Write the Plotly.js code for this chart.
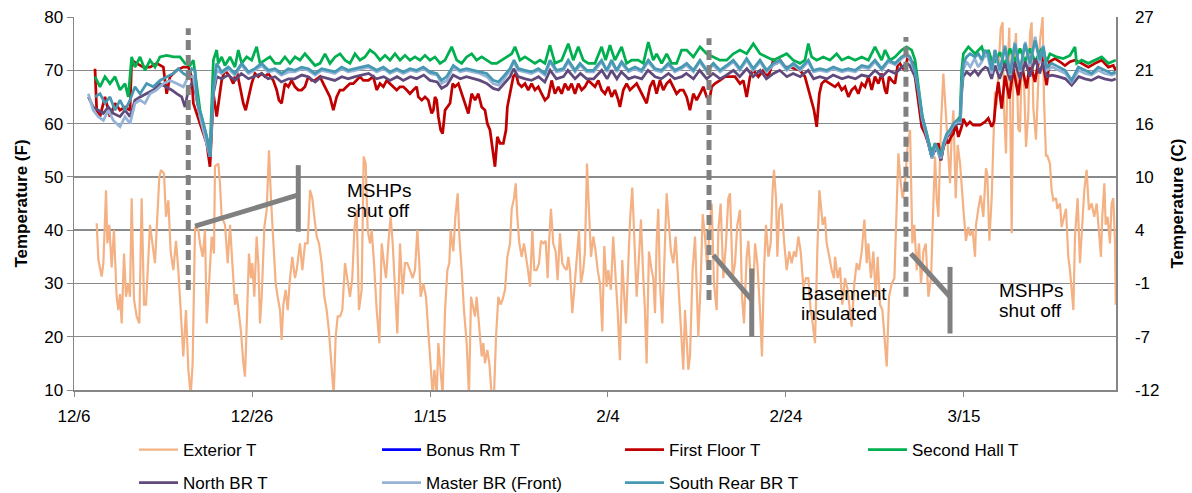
<!DOCTYPE html>
<html>
<head>
<meta charset="utf-8">
<script src="https://cdn.plot.ly/plotly-3.0.1.min.js"></script>
<style>
  html, body { margin: 0; padding: 0; background: #fff; }
  #chart { width: 1192px; height: 493px; }
</style>
</head>
<body>
<div id="chart"></div>
<script>
// ---------- DATA (days after 12/6, temperature in °F) ----------
const exteriorDay = [
2.55,2.74,3.11,3.30,3.60,3.75,3.97,4.23,4.49,4.79,4.98,5.17,5.36,5.62,5.84,6.10,6.29,6.48,6.74,7.04,7.34,7.60,7.87,8.09,8.54,8.84,9.10,9.36,9.59,9.78,10.11,10.34,10.60,10.86,11.16,11.46,11.72,11.99,12.28,12.58,12.85,13.11,13.33,13.60,13.97,14.16,14.46,14.72,14.91,15.21,15.47,15.73,
15.84,16.22,16.40,16.59,16.97,17.27,17.53,17.79,18.09,18.28,18.54,18.76,19.03,19.21,19.44,19.66,19.89,20.04,20.26,20.52,20.71,20.90,21.09,21.39,21.65,21.91,22.13,22.40,22.66,22.88,23.15,23.33,23.52,23.78,24.01,24.27,24.53,24.83,25.02,25.39,25.66,25.96,26.25,26.52,26.78,27.00,27.27,27.53,27.83,28.13,28.39,28.65,28.95,29.18,29.40,29.63,29.89,30.15,30.45,30.75,31.01,31.27,31.50,31.76,32.02,32.32,32.55,32.77,33.00,
33.26,33.45,33.71,34.01,34.31,34.57,34.83,35.06,35.32,35.58,35.81,36.07,36.33,36.63,36.93,37.19,37.45,37.75,38.05,38.31,38.58,38.80,38.95,39.25,39.55,39.81,40.07,40.30,40.49,40.75,40.94,41.20,41.42,41.69,41.95,42.17,42.32,42.62,42.85,43.11,43.30,43.56,43.82,44.12,44.38,44.61,44.79,45.06,45.24,45.54,45.81,45.99,46.18,46.44,46.67,46.93,47.19,47.42,47.68,47.94,48.16,48.43,48.69,48.99,49.18,49.44,49.63,49.81,50.04,50.30,50.56,
50.97,51.24,51.50,51.72,51.98,52.25,52.47,52.73,53.00,53.22,53.37,53.59,53.85,54.12,54.34,54.60,54.87,55.09,55.35,55.54,55.73,55.99,56.21,56.48,56.74,56.96,57.22,57.41,57.64,57.86,58.09,58.35,58.61,58.84,59.10,59.36,59.58,59.85,60.03,60.33,60.59,60.86,61.08,61.34,61.60,61.83,62.02,62.28,62.50,62.73,62.95,63.22,63.40,63.70,63.97,64.15,64.34,64.60,64.90,65.09,65.28,65.46,65.65,65.84,66.10,66.33,66.59,66.85,67.07,67.34,67.60,67.82,68.09,
68.28,68.46,68.65,68.84,69.03,69.21,69.51,69.78,70.04,70.15,70.41,70.64,70.90,71.16,71.39,71.65,71.91,72.21,72.40,72.66,72.96,73.26,73.52,73.71,74.01,74.27,74.53,74.83,75.06,75.28,75.58,75.77,76.03,76.25,76.52,76.78,77.08,77.30,77.53,77.75,78.02,78.28,78.50,78.65,78.88,79.03,79.25,79.51,79.78,80.08,80.37,80.64,80.90,81.12,81.39,81.65,81.95,82.25,82.51,82.77,83.00,83.26,83.52,83.75,83.90,84.12,84.38,84.57,84.87,85.13,85.39,
85.51,85.81,86.07,86.33,86.63,86.93,87.20,87.38,87.68,87.94,88.21,88.51,88.81,89.07,89.26,89.55,89.82,90.08,90.30,90.57,90.83,91.13,91.32,91.58,91.88,92.18,92.44,92.63,92.89,93.11,93.38,93.67,93.94,94.20,94.42,94.69,94.95,95.17,95.44,95.70,96.00,96.30,96.56,96.75,96.93,97.12,97.42,97.68,97.94,98.17,98.43,98.62,98.81,99.07,99.29,99.56,
99.74,100.00,100.22,100.49,100.67,100.97,101.24,101.35,101.61,101.87,102.17,102.47,102.62,102.85,103.11,103.30,103.48,103.67,103.97,104.12,104.34,104.49,104.72,104.87,105.09,105.36,105.54,105.84,106.10,106.29,106.48,106.67,106.97,107.23,107.42,107.60,107.79,108.09,108.35,108.54,108.84,108.99,109.21,109.36,109.66,109.85,110.04,110.34,110.49,110.79,110.97,111.16,111.46,111.72,111.91,
112.10,112.29,112.47,112.77,113.03,113.30,113.52,113.78,114.04,114.34,114.64,114.91,115.17,115.39,115.54,115.77,115.92,116.14,116.40,116.59,116.78,116.97,117.05];
const exteriorT = [
41.3,34.4,31.3,33.8,47.5,37.5,41,33,40,27.5,25,28,22.5,35.6,27.5,30,27.5,46,27,23.8,22.5,46,26,26,41,37.5,33.8,42.5,50,51.3,50.6,42.5,45.6,36,32.5,38,32.5,25,16.3,25,13.8,9,15,40.6,40,37.5,35,40,22.5,31,38.8,35.6,
52,52.5,48.8,42.5,41,33.8,41,33.8,26,28,23.8,21,15,12.5,23.8,35.6,31,33.8,27.5,38.8,33.8,22.5,27.5,40.6,43.8,55,46,37.5,30,27.5,25,19.4,26,28.8,25,31,35,31,32.5,37.5,32.5,37.5,37.5,47.5,46,42.5,38.8,37.5,33.8,27.5,25,21,15,9,20,23.8,23.8,25,33.8,30,27.5,31,40,43.8,25,28.8,53.8,52.5,40,
37.5,40,33.8,25,18.8,37.5,33.8,31,37.5,42.5,37.5,27.5,20.6,37.5,28,33.8,33.8,32.5,31,32.5,40,33.8,27.5,30,27.5,21,15,9,13.8,9,18.8,13.8,9,25,32.5,33.8,40,36,42.5,46.9,38.8,32.5,25,18.8,9,27.5,26,23.8,27.5,21,16.3,18.8,15,17.5,15,9,9,20,27.5,26,27,28.8,35,37.5,44,46,48.8,42.5,37.5,35,37.5,
33,29.4,40,32.5,32.5,33.8,38,37.5,38,31,37.5,44,37.5,36,30.6,39.4,33.8,33,32.5,35,32.5,24.4,28.8,33.8,40,30,32.5,36,52.5,43.8,35,38.8,36,32.5,30,21,37,29.4,32.5,28.8,38.8,31,25,15.6,34.4,27.5,22.5,33.8,42.5,48,37.5,27.5,32.5,42,31,25,15,36,32.5,31,24.4,37.5,44,30,22.5,32.5,46.9,41,36,33.8,38.8,32.5,25,
18.8,13.8,25,20,13.8,16.3,32.5,38.8,27.5,20,30,43,38.8,32.5,40,45,30,25,40,45,31,37.5,46,46.9,31,33.8,41,43.8,27.5,22.5,35,38,31,25,37.5,33.8,25,16.3,32.5,41,35,37.5,47.5,51.3,46,35,43.8,45,38,32.5,36,33.8,36,35,38.8,36,29.4,31,31,25,22.5,18.8,36,47.5,45,41,42.5,37.5,35,32.5,31,
35,31,33,26,31,28.8,25,21.9,30,33.8,32.5,36,42,33.8,37.5,31,36,27.5,35,26,25,18.8,14.4,27.5,30,31,45,54.4,48.8,46,48.8,56,58.8,37.5,41,32.5,37.5,30,36,37.5,27.5,31,45,53.8,46,42.5,60,69.4,62.5,55,48.8,58,62.5,46,56,52.5,
47.5,42.5,38,40.6,39,40,35,41,44,46.5,42.5,51.6,50.5,38,46,58.4,66,63.5,73.4,77.8,79,63,54.4,68,78,39.4,69.7,77,59,58.4,71,72,55.6,62,77,79,63,57,68,75.6,80,64.4,54,54,52.5,47.5,45.6,46,44,45,40.6,42,44,35,32.5,
28.8,25,38.8,46,33.8,41,47.5,51.3,43.8,45,42.5,45,38.8,35,42.5,48.8,41,42.5,37.5,45,46,37.5,26];

// Bonus room: listed in the legend, no readable line in the chart
const bonusRmDay = [0];
const bonusRmT = [null];

const firstFloorDay = [
2.36,2.55,2.92,3.48,4.04,4.61,5.17,5.73,6.29,6.48,7.04,7.79,8.54,9.29,10.04,10.41,10.79,11.54,12.28,12.85,13.22,13.41,14.16,14.91,15.28,15.66,16.03,
16.59,16.96,17.53,17.90,18.27,18.65,19.02,19.29,19.59,19.96,20.33,20.71,21.08,21.46,21.83,22.39,22.77,23.03,23.33,23.70,24.08,24.45,24.83,25.20,25.58,25.95,26.33,26.70,27.08,27.64,28.01,28.39,28.76,29.14,29.51,29.88,30.26,30.63,31.01,31.38,31.76,32.13,32.51,33.07,
33.63,34.01,34.38,34.76,35.13,35.51,35.88,36.26,36.63,37.01,37.38,37.75,38.13,38.50,38.69,39.07,39.44,39.81,40.00,40.19,40.38,40.56,40.75,40.94,41.20,41.42,41.69,41.95,42.25,42.55,42.81,43.19,43.56,43.93,44.31,44.68,45.06,45.43,45.81,46.18,46.44,46.74,47.00,47.30,47.57,47.87,48.24,48.54,48.69,48.99,49.36,49.66,49.93,50.30,50.67,
51.04,51.42,51.79,52.17,52.54,52.92,53.29,53.67,54.04,54.42,54.79,55.16,55.54,55.91,56.29,56.66,57.04,57.41,57.79,58.16,58.54,58.91,59.28,59.66,60.03,60.41,60.78,61.16,61.34,61.72,62.09,62.47,62.84,63.22,63.59,63.97,64.34,64.72,65.09,65.46,65.84,66.21,66.59,66.96,67.34,67.71,68.09,
68.46,68.84,69.21,69.59,69.96,70.34,70.71,71.09,71.46,71.65,72.02,72.58,73.15,73.71,74.27,74.83,75.21,75.58,75.96,76.33,76.89,77.45,78.02,78.58,78.95,79.33,79.89,80.45,81.01,81.57,82.13,82.51,82.88,83.15,83.45,83.75,84.01,84.38,84.94,85.51,
85.88,86.26,86.63,87.01,87.38,87.76,88.13,88.51,88.88,89.26,89.63,90.00,90.38,90.75,91.13,91.32,91.58,91.88,92.25,92.63,93.00,93.38,93.67,94.05,94.31,94.50,94.87,95.25,95.62,96.00,96.37,96.75,97.12,97.42,97.68,98.06,98.24,98.54,98.81,99.07,99.37,99.74,
99.92,100.30,100.67,101.05,101.42,101.80,102.36,102.73,103.11,103.37,103.60,103.86,104.23,104.61,105.09,105.54,106.10,106.48,107.04,107.42,107.98,108.35,108.73,109.29,109.59,110.22,110.79,111.35,111.91,
112.47,113.22,113.97,114.72,115.47,116.22,116.78,117.05];
const firstFloorT = [
70.3,62.5,61.3,65,61.3,63.8,62.5,63.1,62.5,71.9,71.3,70.6,70.6,71.3,70.6,65.6,68.8,70,70.6,70.6,68.8,63.8,60,56.3,51.9,65.6,61.3,
68.1,70,68.8,67.5,70,66.9,63.8,62.5,65,67.5,69.4,68.8,69.4,68.8,69.4,68.1,66.3,64.4,63.8,67.5,66.9,68.1,66.9,66.3,66.3,66.9,68.8,68.1,68.1,68.8,67.5,66.3,65,62.5,65,66.3,66.3,66.9,67.5,67.5,68.1,68.8,68.1,68.1,
68.8,66.3,67.5,66.9,68.1,67.5,66.9,66.3,66.9,66.9,66.3,65.6,66.3,66.9,65,64.4,65,64.4,63.1,61.9,62.5,65,64.4,61.3,58.8,58.1,62.5,63.1,63.8,67.5,66.9,67.5,65.6,63.8,61.9,65.6,64.4,65.6,63.1,62.5,60,58.8,55.6,51.9,57.5,56.3,56.3,58.8,63.1,65.6,68.8,69.4,67.5,66.9,67.5,
66.3,67.5,66.3,66.9,65.6,64.4,65,68.1,65.6,66.9,65.6,67.5,66.3,67.5,65.6,67.5,66.3,66.9,68.1,67.5,66.9,68.1,66.3,65.6,66.9,65,66.3,64.4,63.1,66.3,67.5,66.3,66.9,67.5,66.3,65,63.8,66.9,68.1,65.6,68.1,66.3,67.5,68.1,66.9,65.6,66.3,
66.3,65,62.5,65.6,64.4,65.6,66.9,65,65,66.9,67.5,68.1,68.8,68.8,68.8,67.5,68.1,65,68.8,70,68.8,70,68.8,71.9,71.3,71.9,70.6,70.6,70.3,70,68.8,66.3,64.4,62.5,59.4,65.6,67.5,68.1,67.5,66.9,
67.5,66.3,66.9,65,66.3,66.9,65.6,67.5,66.9,68.8,66.3,68.8,67.5,69.4,66.3,65.6,68.8,68.1,67.5,71.9,70.6,70,72.5,71.9,71.3,68.8,63.8,59.4,58.1,56.3,53.8,55,56.3,53.1,55.6,56.9,56.3,57.5,58.1,60,57.5,59.4,
60.9,59.7,60.3,59.7,59.7,59.7,60.3,61,59.4,60.3,64.7,67.8,62.8,69,64.7,70.3,65.3,70.9,66.6,71.6,67.8,71.6,72.8,67.2,71.6,72.2,71.6,70.9,71.6,
71.9,71.3,70.6,71.3,71.9,70.6,70.9,70];

const secondHallDay = [
2.36,2.92,3.48,4.04,4.61,5.17,5.73,6.10,6.48,6.85,7.42,7.98,8.54,9.10,9.66,10.41,11.16,11.91,12.47,13.03,13.41,14.16,14.91,15.28,15.66,16.03,
16.21,16.59,16.96,17.53,18.09,18.46,18.84,19.40,19.96,20.52,20.90,21.46,22.02,22.58,23.14,23.70,24.27,24.83,25.39,25.95,26.51,27.08,27.64,28.20,28.76,29.33,29.89,30.45,31.01,31.57,32.13,32.69,33.26,
33.82,34.38,34.95,35.51,36.07,36.63,37.19,37.75,38.31,38.88,39.44,40.00,40.56,41.13,41.69,42.44,43.00,43.56,44.12,44.68,45.24,45.81,46.37,46.93,47.49,48.05,48.62,49.18,49.55,50.11,50.67,
51.23,51.79,52.36,52.92,53.48,54.04,54.79,55.54,56.10,56.66,57.22,57.79,58.54,59.28,59.73,60.22,60.78,61.53,62.09,62.66,63.40,63.97,64.53,65.09,65.46,66.03,66.59,67.15,67.71,68.27,
68.84,69.59,70.34,71.09,71.84,72.58,73.33,74.08,74.83,75.58,76.33,77.08,77.83,78.58,79.33,80.08,80.82,81.57,82.13,82.51,82.88,83.45,84.19,84.94,85.69,
86.26,87.01,87.76,88.51,89.26,90.00,90.75,91.13,91.69,92.25,93.00,93.56,94.12,94.50,94.87,95.32,95.81,96.37,96.75,97.12,97.42,97.87,98.43,99.00,99.56,99.74,99.93,100.49,101.24,101.99,102.36,102.74,103.11,
103.48,104.04,104.61,105.17,105.73,106.29,106.85,107.42,107.98,108.73,109.29,109.66,110.41,111.16,111.91,
112.47,112.66,113.22,113.97,114.72,115.47,116.22,117.05];
const secondHallT = [
68.8,66.9,68.8,67.5,68.8,66.3,67.5,65,72.5,70.6,72.5,70,71.9,70.6,72.5,72.8,72.5,72.5,71.3,70.9,71.9,62.5,57.5,55,71.9,73.8,
71.3,72.5,70.9,72.5,70.6,73.8,71.3,72.5,71.9,74.4,71.3,71.9,72.5,71.3,71.3,72.5,71.3,72.5,71.9,73.1,71.9,70.9,71.3,73.1,71.3,72.5,73.1,71.9,71.3,73.1,71.9,72.5,73.8,
73.1,71.9,72.8,71.9,73.1,71.9,72.8,71.9,72.5,71.9,72.8,71.9,72.5,71.3,71.9,74.4,71.9,71.3,72.5,73.1,71.9,72.5,71.9,71.3,71.3,71.9,72.5,73.1,74.4,71.9,72.5,
71.9,71.3,71.9,71.3,74.7,71.3,71.9,75,71.9,74.4,71.9,71.3,71.3,74.4,71.9,74.7,71.9,74.4,71.3,71.9,71.9,71.3,75.3,71.9,73.1,71.3,73.1,71.3,71.3,73.8,
73.8,72.5,74.4,73.1,72.5,71.9,71.9,73.1,73.8,73.1,75,73.1,72.5,71.9,72.5,73.1,71.9,71.3,71.9,75,72.5,71.9,72.5,71.9,73.1,
71.9,72.5,71.9,72.5,71.9,74.4,71.9,73.8,71.9,72.5,73.8,74.4,73.8,71.9,66.9,61.3,58.1,54.4,56.3,55,54.4,56.9,58.8,60,61.3,70,73.1,74.4,73.1,74.4,72.5,73.8,71.9,
71.6,73.4,70.9,74.1,71.6,74.1,71.6,74.1,71.6,74.1,71.6,73.1,72.5,72.2,72.8,
74.4,71.3,71.9,71.3,71.9,72.5,71.3,71.9];

const northBRDay = [
1.61,2.17,2.73,3.30,3.86,4.42,5.17,5.73,6.29,6.85,7.42,8.16,8.91,9.66,10.41,10.97,11.54,12.10,12.47,12.85,13.41,14.16,14.91,15.28,15.66,16.03,
16.6,17.3,18.1,18.8,19.6,20.3,21.1,21.8,22.6,23.3,24.1,24.8,25.6,26.3,27.1,27.8,28.6,29.3,30.1,30.8,31.6,32.3,33.1,34.0,34.8,35.5,36.3,37.0,37.8,38.5,
39.3,40.0,40.8,41.3,41.9,42.6,43.4,44.1,44.9,45.6,46.4,47.1,47.7,48.2,49.0,49.4,49.9,50.7,51.4,52.2,52.9,53.5,54.2,55.0,55.5,56.3,56.9,57.6,58.4,59.3,
59.9,60.4,61.0,61.5,62.3,63.0,63.8,64.5,65.3,66.0,66.8,67.5,68.3,68.8,69.6,70.3,71.1,71.8,72.6,73.3,74.1,74.8,75.6,76.3,77.1,77.8,78.6,79.3,80.1,80.8,
81.6,82.5,83.1,83.8,84.6,85.3,86.3,87.0,87.8,88.5,89.3,90.0,90.8,91.5,92.3,93.0,93.6,93.9,94.5,94.9,95.3,95.8,96.4,96.8,97.1,97.4,97.7,98.1,98.4,98.8,
99.2,99.6,99.7,99.9,100.3,100.7,101.2,101.6,102.0,102.4,102.7,103.1,103.5,104.0,104.6,105.2,105.7,106.3,106.9,107.4,108.0,108.5,108.9,109.3,109.9,110.6,111.4,112.1,112.9,113.6,
114.3,115.1,115.8,116.6,117.05];
const northBRT = [
65,63.1,62.5,61.9,63.1,61.9,61.3,62.5,61.3,64.4,65,65.6,66.3,67.5,66.9,66.3,65.6,65,63.1,66.3,68.1,61.3,56.3,53.8,65.6,68.8,
68.4,69.1,68.1,69.4,68.4,68.8,69.4,68.4,68.8,67.8,68.4,68.4,69.1,68.8,67.8,68.8,68.4,68.1,68.8,68.4,68.8,69.1,69.4,68.4,68.8,68.1,68.8,68.1,68.8,68.4,
69.1,68.1,67.8,66.6,67.2,69.1,68.4,68.8,68.4,68.1,67.5,66.6,66.3,67.2,68.8,70.3,68.8,68.4,68.1,68.8,67.8,70,68.4,68.8,70,68.4,69.4,68.4,68.4,70,
68.4,70,68.4,69.7,68.4,68.8,68.4,70,68.8,68.4,69.4,68.4,68.8,69.4,68.4,70,68.4,69.4,68.4,69.1,70,68.8,70.3,68.8,70,68.4,69.4,70,68.8,69.4,
68.8,70,68.4,68.8,68.4,69.1,68.4,68.8,68.4,69.1,68.8,70,68.8,70,69.4,70.6,71.3,70.9,68.8,65.6,60.6,57.5,53.5,55.6,54.7,53.1,55.6,57.5,58.1,59.4,
60,60,65,68.8,69.7,69.1,70,69.1,70,70.6,70.3,68.4,70.9,68.4,71.3,68.1,71.6,68.4,71.6,68.8,72.2,69.4,71.6,68.8,69.1,68.8,68.4,67.2,68.8,68.4,
68.1,68.8,68.4,68.1,68.4];

const masterBRDay = [
1.61,2.17,2.73,3.30,3.86,4.42,5.17,5.73,6.29,6.85,7.42,7.98,8.54,9.29,10.04,10.79,11.54,12.28,12.85,13.41,14.16,14.91,15.28,15.66,16.03,
16.6,17.3,18.1,18.8,19.6,20.3,21.1,21.8,22.6,23.3,24.1,24.8,25.6,26.3,27.1,27.8,28.6,29.3,30.1,30.8,31.6,32.3,33.1,34.0,34.8,35.5,36.3,37.0,37.8,38.5,
39.3,40.0,40.8,41.3,41.9,42.6,43.4,44.1,44.9,45.6,46.4,47.1,47.7,48.2,49.0,49.4,49.9,50.7,51.4,52.2,52.9,53.5,54.2,55.0,55.5,56.3,56.9,57.6,58.4,59.3,
59.9,60.4,61.0,61.5,62.3,63.0,63.8,64.5,65.3,66.0,66.8,67.5,68.3,68.8,69.6,70.3,71.1,71.8,72.6,73.3,74.1,74.8,75.6,76.3,77.1,77.8,78.6,79.3,80.1,80.8,
81.6,82.5,83.1,83.8,84.6,85.3,86.3,87.0,87.8,88.5,89.3,90.0,90.8,91.5,92.3,93.0,93.6,93.9,94.5,94.9,95.3,95.8,96.4,96.8,97.1,97.4,97.7,98.1,98.4,98.8,
99.2,99.6,99.7,99.9,100.3,100.7,101.2,101.6,102.0,102.4,102.7,103.1,103.5,104.0,104.6,105.2,105.7,106.3,106.9,107.4,108.0,108.5,108.9,109.3,109.9,110.6,111.4,112.1,112.9,113.6,
114.3,115.1,115.8,116.6,117.05];
const masterBRT = [
65.6,62.5,61.3,60.6,62.5,60.6,59.4,61.3,60,63.8,64.4,63.8,65.6,66.3,67.5,68.1,67.5,66.9,68.8,68.8,61.3,56.3,53.8,66.3,70,
69.4,70.3,69.1,71,69.4,70,70.9,69.7,70,69.1,69.7,69.7,70.3,70,69.1,70,69.7,69.4,70.3,69.7,70,70.3,70.6,69.7,70.3,69.4,70,69.4,70,69.7,
70.3,69.4,69.1,67.5,68.1,70.6,69.7,70,69.7,69.4,68.8,67.5,67.2,68.1,70,71.6,70,69.7,69.4,70,69.1,71.6,69.7,70,71.6,69.7,71,69.7,69.7,71.6,
69.7,71.6,69.7,71.3,69.7,70.3,69.7,71.6,70,69.7,71,69.7,70.3,71,69.7,71.6,69.7,71,69.7,70.6,71.6,70,71.9,70,71.6,69.7,71,71.6,70,71,
70,71.6,69.7,70,69.7,70.3,69.7,70,69.7,70.6,70.3,71.6,70,71.6,71,72.2,72.8,72.2,69.7,66,61,57.8,53.5,56,54.7,53.5,56,57.8,58.5,59.7,
60.3,60.3,66,70,71.6,70.6,72.2,70.6,71.6,73.1,72.5,69.4,73.8,69.7,74.7,69.1,75.3,69.7,75.3,70.6,76.3,71.3,74.7,70,70.6,70,69.4,67.8,70,69.4,
69.1,70,69.4,69.1,69.4];

const southRearDay = [
2.36,2.92,3.48,4.04,4.61,5.17,5.73,6.29,6.85,7.42,8.16,8.91,9.66,10.41,11.16,11.72,12.28,12.85,13.22,13.60,13.86,14.34,14.91,15.28,15.66,16.03,
16.59,17.34,18.09,18.84,19.59,20.33,21.08,21.83,22.58,23.33,24.08,24.83,25.58,26.33,27.08,27.83,28.57,29.33,30.07,30.82,31.57,32.32,33.07,
34.01,34.76,35.51,36.26,37.01,37.75,38.50,39.25,40.00,40.75,41.31,41.87,42.62,43.37,44.12,44.87,45.62,46.37,47.12,47.68,48.24,48.99,49.44,49.93,50.67,
51.42,52.17,52.92,53.48,54.23,54.98,55.54,56.29,56.85,57.60,58.35,59.28,59.85,60.41,60.97,61.53,62.28,63.03,63.78,64.53,65.28,66.03,66.78,67.52,68.27,
68.84,69.59,70.34,71.09,71.84,72.58,73.33,74.08,74.83,75.58,76.33,77.08,77.83,78.58,79.33,80.08,80.82,81.57,82.51,83.07,83.82,84.57,85.32,
86.26,87.01,87.76,88.51,89.26,90.00,90.75,91.50,92.25,93.00,93.56,93.94,94.50,94.87,95.32,95.81,96.37,96.75,97.12,97.42,97.68,98.06,98.43,98.81,99.18,99.56,99.74,99.93,100.30,100.68,101.24,101.62,101.99,102.36,
102.73,103.11,103.48,104.04,104.61,105.17,105.73,106.29,106.85,107.42,107.98,108.54,108.91,109.29,109.85,110.60,111.35,112.10,112.85,113.60,114.34,115.09,115.84,116.59,117.05];
const southRearT = [
65,65.6,63.8,65,62.5,64.4,62.5,64.4,66.9,65.6,67.5,66.9,68.1,68.8,69.4,70.3,69.4,68.8,70.3,70,63.8,61.3,57.5,53.8,66.9,71.3,
69.7,70.6,69.4,71.3,69.7,70.3,71.3,70,70.3,69.4,70.3,70,70.6,70.3,69.4,70.3,70,69.7,70.6,70,70.3,70.6,70.9,
70,70.6,69.7,70.3,69.7,70.3,70,70.6,69.7,69.4,68.1,68.8,70.9,70,70.3,70,69.7,69.4,68.1,67.8,68.8,70.3,71.9,70.3,70,
69.7,70.3,69.4,71.9,70,70.3,71.9,70,71.3,70,70,71.9,70,71.9,70,71.6,70,70.6,70,71.9,70.3,70,71.3,70,70.6,
71.3,70,71.9,70,71.3,70,70.9,71.9,70.3,72.2,70.3,71.9,70,71.3,71.9,70.3,71.3,70.3,71.9,70,70.3,70,70.6,
70,70.3,70,70.9,70.6,71.9,70.3,71.9,71.3,72.5,73.1,72.5,70,66.3,61.3,58.1,53.8,56.3,55,53.8,56.3,58.1,58.8,60,60.6,60.6,66.9,71.3,72.5,73.1,72.5,73.1,71.9,73.8,
73.1,70,73.8,70,74.4,69.4,75,70,75,71.3,75.6,71.9,74.4,70.6,71.3,70.6,70,68.1,70.6,70,69.4,70.6,70,69.4,69.7];

const fTickValues = [10, 20, 30, 40, 50, 60, 70, 80];
const cTickLabels = ['-12', '-7', '-1', '4', '10', '16', '21', '27'];
const dateTickDays = [0, 20, 40, 60, 80, 100];
const dateTickLabels = ['12/6', '12/26', '1/15', '2/4', '2/24', '3/15'];

// ---------- helpers ----------
const START = Date.UTC(2011, 11, 6);
function toDate(d) {
  return new Date(START + d * 86400000).toISOString().slice(0, 19).replace('T', ' ');
}
function dates(arr) { return arr.map(toDate); }

const FONT = 'Liberation Sans, Arial, sans-serif';
const GREY = '#808080';

function series(name, days, temps, color, width, legend) {
  return {
    type: 'scatter', mode: 'lines', name: name,
    x: dates(days), y: temps,
    line: { color: color, width: width },
    legend: legend, hoverinfo: 'skip'
  };
}

const traces = [
  series('Exterior T', exteriorDay, exteriorT, '#F4B183', 2.2, 'legend'),
  series('Bonus Rm T', bonusRmDay, bonusRmT, '#0000FF', 2.75, 'legend'),
  series('First Floor T', firstFloorDay, firstFloorT, '#C00000', 2.75, 'legend'),
  series('Second Hall T', secondHallDay, secondHallT, '#00B050', 2.75, 'legend'),
  series('North BR T', northBRDay, northBRT, '#604A7B', 2.75, 'legend2'),
  series('Master BR (Front)', masterBRDay, masterBRT, '#95B3D7', 2.75, 'legend2'),
  series('South Rear BR T', southRearDay, southRearT, '#4798B3', 2.75, 'legend2'),
  // carrier so the Celsius axis on the right is drawn (no visible marks)
  { type: 'scatter', mode: 'lines', x: dates(bonusRmDay), y: bonusRmT, yaxis: 'y2',
    showlegend: false, hoverinfo: 'skip', line: { width: 0 } }
];

// annotation geometry (callouts)
function vline(d, y0, y1, dash) {
  return { type: 'line', xref: 'x', yref: 'y', x0: toDate(d), x1: toDate(d), y0: y0, y1: y1,
           line: { color: GREY, width: 5, dash: dash } };
}
function seg(d0, y0, d1, y1) {
  return { type: 'line', xref: 'x', yref: 'y', x0: toDate(d0), x1: toDate(d1), y0: y0, y1: y1,
           line: { color: GREY, width: 5 } };
}
const shapes = [
  vline(12.84, 28.75, 77.9, '10px,5px'),
  vline(71.35, 26.9, 76.0, '10px,5px'),
  vline(93.48, 27.5, 76.25, '10px,5px'),
  seg(13.6, 40.75, 25.2, 46.6), vline(25.2, 39.7, 52.2, 'solid'),
  seg(71.83, 35.3, 76.15, 26.9), vline(76.15, 20.0, 32.8, 'solid'),
  seg(94.04, 35.6, 98.43, 27.5), vline(98.43, 20.6, 33.1, 'solid')
];
function note(text, d, y) {
  return { text: text, x: toDate(d), y: y, xref: 'x', yref: 'y', showarrow: false,
           xanchor: 'left', yanchor: 'middle', font: { family: FONT, size: 19, color: '#000' } };
}
const annotations = [
  note('MSHPs', 30.45, 47.5), note('shut off', 30.45, 43.75),
  note('Basement', 81.49, 28.1), note('insulated', 81.49, 24.4),
  note('MSHPs', 103.67, 28.7), note('shut off', 103.67, 24.95)
];

const legendBase = {
  orientation: 'h', xanchor: 'left', yanchor: 'middle',
  font: { family: FONT, size: 17, color: '#000' },
  entrywidth: 189, entrywidthmode: 'pixels', itemwidth: 39,
  bgcolor: 'rgba(0,0,0,0)', borderwidth: 0, traceorder: 'normal'
};

const layout = {
  width: 1192, height: 493,
  margin: { l: 74, r: 76, t: 17, b: 103, autoexpand: false },
  paper_bgcolor: '#fff', plot_bgcolor: '#fff',
  font: { family: FONT, color: '#000' },
  showlegend: true,
  xaxis: {
    type: 'date',
    range: [toDate(0), toDate(117.08)],
    tickvals: dates(dateTickDays), ticktext: dateTickLabels,
    showgrid: false, zeroline: false,
    showline: true, linecolor: '#868686', linewidth: 1.5,
    ticks: 'outside', ticklen: 5, tickcolor: '#868686', tickwidth: 1,
    ticklabelstandoff: 5,
    tickfont: { family: FONT, size: 17, color: '#000' }
  },
  yaxis: {
    range: [10, 80], tickvals: fTickValues,
    showgrid: true, gridcolor: '#8a8a8a', gridwidth: 1.3,
    zeroline: false, showline: true, linecolor: '#868686', linewidth: 1.5,
    ticks: 'outside', ticklen: 6, tickcolor: '#868686',
    tickfont: { family: FONT, size: 17, color: '#000' },
    title: { text: 'Temperature (F)', font: { family: FONT, size: 17, color: '#000', weight: 'bold' }, standoff: 12 }
  },
  yaxis2: {
    overlaying: 'y', side: 'right', range: [10, 80],
    tickvals: fTickValues, ticktext: cTickLabels,
    showgrid: false, zeroline: false, showline: true, linecolor: '#868686', linewidth: 1.5,
    ticks: '', tickfont: { family: FONT, size: 17, color: '#000' },
    ticklabelstandoff: 14,
    title: { text: 'Temperature (C)', font: { family: FONT, size: 17, color: '#000', weight: 'bold' }, standoff: 12 }
  },
  legend: Object.assign({}, legendBase, { x: 0.0576, y: -0.161 }),
  legend2: Object.assign({}, legendBase, { x: 0.0576, y: -0.2493 }),
  shapes: shapes,
  annotations: annotations
};

Plotly.newPlot('chart', traces, layout, { displayModeBar: false, staticPlot: true });
</script>
</body>
</html>
